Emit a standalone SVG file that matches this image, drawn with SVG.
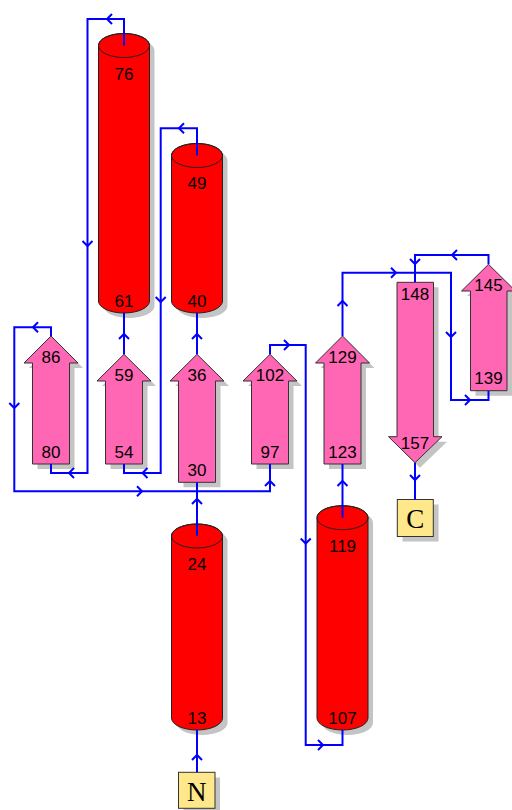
<svg xmlns="http://www.w3.org/2000/svg" width="512" height="810" viewBox="0 0 512 810">
<defs>
<style>
.sh{fill:#c4c4c4;stroke:none}
.hx{fill:#ff0000;stroke:#222;stroke-width:1}
.hxe{fill:none;stroke:#222;stroke-width:1}
.st{fill:#ff66b3;stroke:#333;stroke-width:1}
.bx{fill:#ffe88c;stroke:#333;stroke-width:1}
.lb{font-family:"Liberation Sans",Arial,sans-serif;font-size:17px;fill:#000;text-anchor:middle}
.tm{font-family:"Liberation Serif","Times New Roman",serif;font-size:27px;fill:#000;text-anchor:middle}
.cn{fill:none;stroke:#0000ff;stroke-width:2;stroke-linejoin:miter}
.ah{fill:none;stroke:#0000ff;stroke-width:2}
</style>
</defs>
<rect width="512" height="810" fill="#ffffff"/>

<g id="helix-61-76">
<path class="sh" d="M103.5,50.5 L103.5,306 A25.5,12 0 0 0 154.5,306 L154.5,50.5 A25.5,12 0 0 0 103.5,50.5 Z"/>
<path class="hx" d="M98.5,45.5 L98.5,301 A25.5,12 0 0 0 149.5,301 L149.5,45.5 A25.5,12 0 0 0 98.5,45.5 Z"/>
<ellipse class="hxe" cx="124" cy="45.5" rx="25.5" ry="12"/>
<text class="lb" x="124" y="80">76</text>
<text class="lb" x="124" y="306.5">61</text>
</g>

<g id="helix-40-49">
<path class="sh" d="M176.5,160.5 L176.5,306 A25.5,12 0 0 0 227.5,306 L227.5,160.5 A25.5,12 0 0 0 176.5,160.5 Z"/>
<path class="hx" d="M171.5,155.5 L171.5,301 A25.5,12 0 0 0 222.5,301 L222.5,155.5 A25.5,12 0 0 0 171.5,155.5 Z"/>
<ellipse class="hxe" cx="197" cy="155.5" rx="25.5" ry="12"/>
<text class="lb" x="197" y="188.5">49</text>
<text class="lb" x="197" y="306.5">40</text>
</g>

<g id="helix-13-24">
<path class="sh" d="M176.5,541 L176.5,723 A25.5,12 0 0 0 227.5,723 L227.5,541 A25.5,12 0 0 0 176.5,541 Z"/>
<path class="hx" d="M171.5,536 L171.5,718 A25.5,12 0 0 0 222.5,718 L222.5,536 A25.5,12 0 0 0 171.5,536 Z"/>
<ellipse class="hxe" cx="197" cy="536" rx="25.5" ry="12"/>
<text class="lb" x="197" y="570">24</text>
<text class="lb" x="197" y="724">13</text>
</g>

<g id="helix-107-119">
<path class="sh" d="M322,522.7 L322,723 A25.5,12 0 0 0 373,723 L373,522.7 A25.5,12 0 0 0 322,522.7 Z"/>
<path class="hx" d="M317,517.7 L317,718 A25.5,12 0 0 0 368,718 L368,517.7 A25.5,12 0 0 0 317,517.7 Z"/>
<ellipse class="hxe" cx="342.5" cy="517.7" rx="25.5" ry="12"/>
<text class="lb" x="342.5" y="551.5">119</text>
<text class="lb" x="342.5" y="724">107</text>
</g>

<g id="strand-80-86">
<polygon class="sh" points="37.5,469 37.5,368 29,368 56,341 83,368 74.5,368 74.5,469"/>
<polygon class="st" points="32.5,464 32.5,363 24,363 51,336 78,363 69.5,363 69.5,464"/>
<text class="lb" x="51" y="362.5">86</text>
<text class="lb" x="51" y="457.5">80</text>
</g>

<g id="strand-54-59">
<polygon class="sh" points="110.5,469 110.5,386 102,386 129,359.3 156,386 147.5,386 147.5,469"/>
<polygon class="st" points="105.5,464 105.5,381 97,381 124,354.3 151,381 142.5,381 142.5,464"/>
<text class="lb" x="124" y="380.5">59</text>
<text class="lb" x="124" y="457.5">54</text>
</g>

<g id="strand-30-36">
<polygon class="sh" points="183.5,487.3 183.5,386 175,386 202,359.3 229,386 220.5,386 220.5,487.3"/>
<polygon class="st" points="178.5,482.3 178.5,381 170,381 197,354.3 224,381 215.5,381 215.5,482.3"/>
<text class="lb" x="197" y="380.5">36</text>
<text class="lb" x="197" y="476">30</text>
</g>

<g id="strand-97-102">
<polygon class="sh" points="256.5,469 256.5,386 248,386 275,359.3 302,386 293.5,386 293.5,469"/>
<polygon class="st" points="251.5,464 251.5,381 243,381 270,354.3 297,381 288.5,381 288.5,464"/>
<text class="lb" x="270" y="381">102</text>
<text class="lb" x="270" y="457.5">97</text>
</g>

<g id="strand-123-129">
<polygon class="sh" points="329,469 329,368 320.5,368 347.5,341 374.5,368 366,368 366,469"/>
<polygon class="st" points="324,464 324,363 315.5,363 342.5,336 369.5,363 361,363 361,464"/>
<text class="lb" x="342.5" y="362.5">129</text>
<text class="lb" x="342.5" y="457.5">123</text>
</g>

<g id="strand-148-157">
<polygon class="sh" points="402,287.3 402,441.7 393.5,441.7 420,467.7 447,441.7 438.5,441.7 438.5,287.3"/>
<polygon class="st" points="397,282.3 397,436.7 388.5,436.7 415,462.7 442,436.7 433.5,436.7 433.5,282.3"/>
<text class="lb" x="415" y="300">148</text>
<text class="lb" x="415" y="449.3">157</text>
</g>

<g id="strand-139-145">
<polygon class="sh" points="475.5,395.7 475.5,296 467,296 493.5,269.3 520.5,296 512,296 512,395.7"/>
<polygon class="st" points="470.5,390.7 470.5,291 461.5,291 488.5,264.3 515.5,291 507,291 507,390.7"/>
<text class="lb" x="488.5" y="291">145</text>
<text class="lb" x="488.5" y="384.3">139</text>
</g>

<g id="N-terminus">
<rect class="sh" x="183.5" y="777.5" width="36.5" height="36"/>
<rect class="bx" x="178.5" y="772.3" width="36.5" height="36"/>
<text class="tm" x="196.8" y="800.5">N</text>
</g>

<g id="C-terminus">
<rect class="sh" x="402.5" y="504.5" width="36" height="37"/>
<rect class="bx" x="397.3" y="499.5" width="36" height="37"/>
<text class="tm" x="415.3" y="528">C</text>
</g>

<g id="connectors">
<path class="cn" d="M197,772.3 L197,730"/>
<path class="cn" d="M197,536 L197,482.3"/>
<path class="cn" d="M197,354.3 L197,313"/>
<path class="cn" d="M197,155.5 L197,128.3 L160.7,128.3 L160.7,473 L124,473 L124,464"/>
<path class="cn" d="M124,354.3 L124,313"/>
<path class="cn" d="M124,45.5 L124,19 L87.5,19 L87.5,473 L51,473 L51,464"/>
<path class="cn" d="M51,336 L51,327.3 L14.3,327.3 L14.3,491.3 L270,491.3 L270,464"/>
<path class="cn" d="M270,354.3 L270,345 L305.7,345 L305.7,745 L342.5,745 L342.5,730"/>
<path class="cn" d="M342.5,517.7 L342.5,464"/>
<path class="cn" d="M342.5,336 L342.5,272.7 L451,272.7 L451,400 L488.5,400 L488.5,390.7"/>
<path class="cn" d="M488.5,264.3 L488.5,255 L415,255 L415,282.3"/>
<path class="cn" d="M415,462.7 L415,499.5"/>
<g id="arrowheads">
<polyline class="ah" points="192,760 197,755 202,760"/>
<polyline class="ah" points="192,504 197,499 202,504"/>
<polyline class="ah" points="192,339 197,334 202,339"/>
<polyline class="ah" points="119,339 124,334 129,339"/>
<polyline class="ah" points="184,123.3 179,128.3 184,133.3"/>
<polyline class="ah" points="155.7,297 160.7,302 165.7,297"/>
<polyline class="ah" points="147.5,468 142.5,473 147.5,478"/>
<polyline class="ah" points="112,14 107,19 112,24"/>
<polyline class="ah" points="82.5,241 87.5,246 92.5,241"/>
<polyline class="ah" points="74,468 69,473 74,478"/>
<polyline class="ah" points="38,322.3 33,327.3 38,332.3"/>
<polyline class="ah" points="9.3,403 14.3,408 19.3,403"/>
<polyline class="ah" points="137,486.3 142,491.3 137,496.3"/>
<polyline class="ah" points="265,486 270,481 275,486"/>
<polyline class="ah" points="284,340 289,345 284,350"/>
<polyline class="ah" points="300.7,538.5 305.7,543.5 310.7,538.5"/>
<polyline class="ah" points="318,740 323,745 318,750"/>
<polyline class="ah" points="337.5,486 342.5,481 347.5,486"/>
<polyline class="ah" points="337.5,306 342.5,301 347.5,306"/>
<polyline class="ah" points="391,267.7 396,272.7 391,277.7"/>
<polyline class="ah" points="446,332 451,337 456,332"/>
<polyline class="ah" points="465,395 470,400 465,405"/>
<polyline class="ah" points="457,250 452,255 457,260"/>
<polyline class="ah" points="410,259 415,264 420,259"/>
<polyline class="ah" points="410,475 415,480 420,475"/>
</g>
</g>
</svg>
